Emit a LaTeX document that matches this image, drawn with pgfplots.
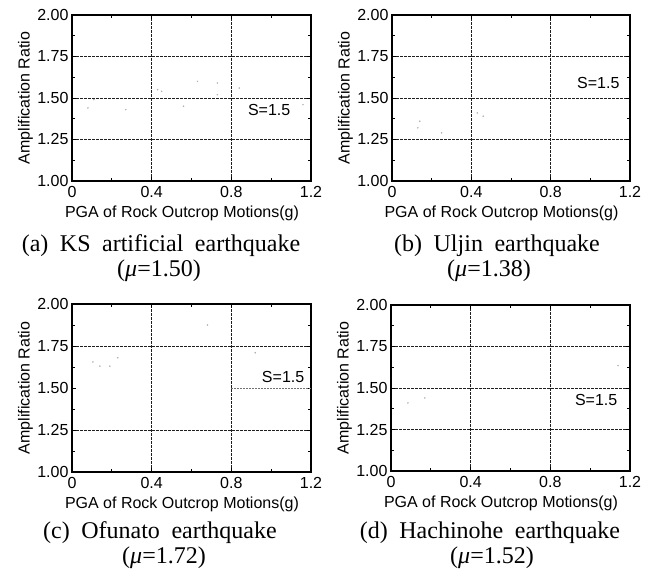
\documentclass[border=0pt]{standalone}
\usepackage{pgfplots}
\pgfplotsset{compat=1.18}
\usepackage{fontspec}
\setmainfont{Liberation Sans}
\newfontfamily\capserif{Liberation Serif}
\newcommand\capfont{\capserif\fontsize{24bp}{28bp}\selectfont\spaceskip=0.48em plus 0.1em\relax}
\newcommand\axfont{\fontsize{16bp}{19bp}\selectfont}
\pgfplotsset{
  panel/.style={
    scale only axis, width=239bp, height=166bp, anchor=south west,
    xmin=0, xmax=1.2, ymin=1, ymax=2,
    xtick={0,0.4,0.8,1.2}, xticklabels={0,0.4,0.8,1.2},
    ytick={1,1.25,1.5,1.75,2}, yticklabels={1.00,1.25,1.50,1.75,2.00},
    minor xtick={0.2,0.6,1.0}, minor ytick={1.125,1.375,1.625,1.875},
    tick align=inside, major tick length=4bp, minor tick length=3bp,
    every tick/.style={black, line width=0.8bp},
    xmajorgrids, ymajorgrids,
    major grid style={black!88, line width=0.75bp, dash pattern=on 2.5bp off 1.5bp},
    axis line style={line width=1.2bp},
    /pgf/number format/assume math mode=true,
    tick label style={font=\axfont},
    xticklabel style={yshift=-2bp},
    label style={font=\axfont},
    xlabel={PGA of Rock Outcrop Motions(g)},
    ylabel={Amplification Ratio},
    xlabel style={at={(axis description cs:0.46,-0.193)}, anchor=center},
    ylabel style={at={(axis description cs:-0.195,0.5)}, anchor=center},
    clip=false,
  },
  faint/.style={only marks, mark=*, mark size=0.55bp, black!30, mark options={draw=none, fill=black!30}},
}
\begin{document}
\begin{tikzpicture}[x=1bp,y=1bp]
\path[use as bounding box] (0,0) rectangle (654,577);
% (a)
\begin{axis}[panel, at={(72bp,396bp)}]
\addplot[faint] coordinates {(0.08,1.44) (0.11,1.49) (0.27,1.43) (0.43,1.55) (0.45,1.54) (0.56,1.45) (0.63,1.60) (0.73,1.59) (0.73,1.52) (0.84,1.56) (1.16,1.46)};
\node[font=\axfont] at (axis cs:0.99,1.43) {S=1.5};
\end{axis}
% (b)
\begin{axis}[panel, at={(392bp,396bp)}, width=238bp]
\addplot[faint] coordinates {(0.14,1.36) (0.13,1.32) (0.25,1.29) (0.43,1.41) (0.46,1.39)};
\node[font=\axfont] at (axis cs:1.04,1.59) {S=1.5};
\end{axis}
% (c)
\begin{axis}[panel, at={(72bp,105bp)}, height=168bp, ytick={1,1.25,1.75,2}, yticklabels={1.00,1.25,1.75,2.00}, extra y ticks={1.5}, extra y tick labels={1.50}, extra y tick style={grid=none}]
\addplot[black!55, line width=0.7bp, dash pattern=on 1.5bp off 1.5bp] coordinates {(0.8,1.5) (1.2,1.5)};
\addplot[faint] coordinates {(0.105,1.655) (0.14,1.63) (0.19,1.63) (0.23,1.68) (0.68,1.875) (0.92,1.71)};
\node[font=\axfont] at (axis cs:1.06,1.565) {S=1.5};
\end{axis}
% (d)
\begin{axis}[panel, at={(391bp,106bp)}, height=166bp]
\addplot[faint] coordinates {(0.085,1.41) (0.17,1.44) (1.14,1.635)};
\node[font=\axfont] at (axis cs:1.03,1.43) {S=1.5};
\end{axis}
% captions
\node[font=\capfont, anchor=base] at (161,325) {(a) KS artificial earthquake};
\node[font=\capfont, anchor=base] at (159,300) {(\textit{μ}=1.50)};
\node[font=\capfont, anchor=base] at (497,325) {(b) Uljin earthquake};
\node[font=\capfont, anchor=base] at (489,300) {(\textit{μ}=1.38)};
\node[font=\capfont, anchor=base] at (160,38) {(c) Ofunato earthquake};
\node[font=\capfont, anchor=base] at (164,13) {(\textit{μ}=1.72)};
\node[font=\capfont, anchor=base] at (490,38) {(d) Hachinohe earthquake};
\node[font=\capfont, anchor=base] at (492,13) {(\textit{μ}=1.52)};
\end{tikzpicture}
\end{document}
